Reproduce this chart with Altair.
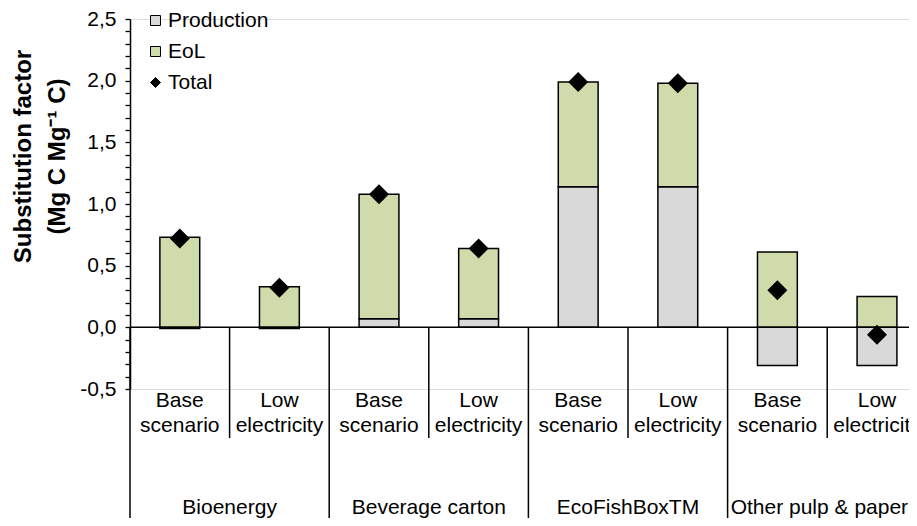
import altair as alt
import pandas as pd

groups = ["Bioenergy", "Beverage carton", "EcoFishBoxTM", "Other pulp & paper"]
scenarios = ["Base\nscenario", "Low\nelectricity"]
production = [-0.01, -0.01, 0.07, 0.07, 1.14, 1.14, -0.31, -0.31]
eol = [0.73, 0.33, 1.01, 0.57, 0.85, 0.84, 0.61, 0.25]
total = [0.72, 0.32, 1.08, 0.64, 1.99, 1.98, 0.30, -0.06]
series = ["Production", "EoL", "Total"]
colors = ["#d9d9d9", "#d0dbab", "#000000"]
shapes = ["square", "square", "diamond"]
y_ticks = [-0.5, -0.4, -0.3, -0.2, -0.1, 0.0, 0.1, 0.2, 0.3, 0.4, 0.5, 0.6, 0.7, 0.8, 0.9,
           1.0, 1.1, 1.2, 1.3, 1.4, 1.5, 1.6, 1.7, 1.8, 1.9, 2.0, 2.1, 2.2, 2.3, 2.4, 2.5]
y_domain = [-0.5, 2.5]

FONT = "Liberation Sans"
PLOT_W, PLOT_H = 779, 370
STEP = 99.6                      # pixels per category slot in the reference
X_MAX = PLOT_W / STEP            # the last slot runs past the visible edge
HALF = 0.2                       # half bar width, in slots
EDGE_ROOM = 0.9                  # keep the last group label inside the picture

n = len(groups) * len(scenarios)

bar_rows = []
for i in range(n):
    bar_rows.append({"idx": i, "series": "Production", "value": production[i], "ord": 0})
    bar_rows.append({"idx": i, "series": "EoL", "value": eol[i], "ord": 1})
bar_df = pd.DataFrame(bar_rows)
pt_df = pd.DataFrame({"idx": list(range(n)), "series": ["Total"] * n, "value": total})

# label rows sit below the zero line, in y-scale units
scen_df = pd.DataFrame({
    "idx": list(range(n)),
    "label": [s for g in groups for s in scenarios],
    "value": [-0.649] * n,
})
grp_df = pd.DataFrame({
    "gidx": list(range(len(groups))),
    "label": groups,
    "value": [-1.51] * len(groups),
})
sep_df = pd.DataFrame({
    "pos": [float(i) for i in range(n + 1)],
    "value": [0.0] * (n + 1),
    "bottom": [-0.898 if i % 2 == 1 else -1.8 for i in range(n + 1)],
})
zero_df = pd.DataFrame({"x0": [0.0], "x1": [float(n)], "value": [0.0]})

xscale = alt.Scale(domain=[0, X_MAX], nice=False, zero=False)
yscale = alt.Scale(domain=y_domain, nice=False, zero=False)

label_expr = ("abs(datum.value * 2 - round(datum.value * 2)) < 0.01 ? "
              "replace(replace(format(datum.value, '.1f'), '.', ','), '\u2212', '-') : ''")

yaxis = alt.Axis(
    values=y_ticks, labelExpr=label_expr, labelOverlap=False, grid=False,
    tickSize=5, tickColor="black", tickWidth=1.3,
    domainColor="black", domainWidth=1.5,
    labelFont=FONT, labelFontSize=21, labelColor="black", labelPadding=9,
    title=["Substitution factor", "(Mg C Mg\u207b\u00b9 C)"],
    titleFont=FONT, titleFontSize=24, titleFontWeight="bold", titleColor="black",
    titleAngle=270, titleX=-100, titleY=137, titleAlign="center",
    titleBaseline="alphabetic", titleLineHeight=34,
)

legend = alt.Legend(
    title=None, orient="none", legendX=15, legendY=-9,
    labelFont=FONT, labelFontSize=21, labelColor="black", labelOffset=2,
    symbolSize=100, symbolStrokeColor="black", symbolStrokeWidth=1,
    rowPadding=9, padding=0,
)

color_scale = alt.Scale(domain=series, range=colors)


def Y(field, **kw):
    return alt.Y(field, scale=yscale, axis=yaxis, **kw)


def X(field, **kw):
    return alt.X(field, scale=xscale, axis=None, **kw)


bars = alt.Chart(bar_df).transform_stack(
    stack="value", groupby=["idx"], as_=["y0", "y1"],
    sort=[alt.SortField("ord", order="ascending")], offset="zero",
).transform_calculate(
    left=f"datum.idx + 0.5 - {HALF}", right=f"datum.idx + 0.5 + {HALF}",
).mark_rect(stroke="black", strokeWidth=1.5).encode(
    x=X("left:Q"), x2="right:Q",
    y=Y("y0:Q"), y2="y1:Q",
    color=alt.Color("series:N", scale=color_scale, legend=legend),
)

zero_line = alt.Chart(zero_df).mark_rule(color="black", strokeWidth=1.5).encode(
    x=X("x0:Q"), x2="x1:Q",
    y=Y("value:Q"),
)

seps = alt.Chart(sep_df).mark_rule(color="black", strokeWidth=1.5).encode(
    x=X("pos:Q"),
    y=Y("value:Q"),
    y2="bottom:Q",
)

points = alt.Chart(pt_df).transform_calculate(
    mid="datum.idx + 0.5"
).mark_point(filled=True, size=400, opacity=1).encode(
    x=X("mid:Q"),
    y=Y("value:Q"),
    color=alt.Color("series:N", scale=color_scale, legend=legend),
    shape=alt.Shape("series:N", scale=alt.Scale(domain=series, range=shapes), legend=legend),
)

scen_text = alt.Chart(scen_df).transform_calculate(
    mid="datum.idx + 0.5"
).mark_text(
    font=FONT, fontSize=21, color="black", align="center", baseline="alphabetic",
    lineBreak="\n", lineHeight=25,
).encode(
    x=X("mid:Q"),
    y=Y("value:Q"),
    text="label:N",
)

grp_text = alt.Chart(grp_df).transform_calculate(
    mid=f"min(datum.gidx * 2 + 1, {X_MAX - EDGE_ROOM})"
).mark_text(
    font=FONT, fontSize=21, color="black", align="center", baseline="alphabetic",
).encode(
    x=X("mid:Q"),
    y=Y("value:Q"),
    text="label:N",
)

chart = alt.layer(bars, zero_line, seps, points, scen_text, grp_text).properties(
    width=PLOT_W, height=PLOT_H,
    autosize=alt.AutoSizeParams(type="none"),
    padding={"left": 122, "top": 11, "right": 0, "bottom": 129},
).configure_view(stroke=None).configure(background="white")

chart.save("out.html", embed_options={"renderer": "svg", "actions": False})
